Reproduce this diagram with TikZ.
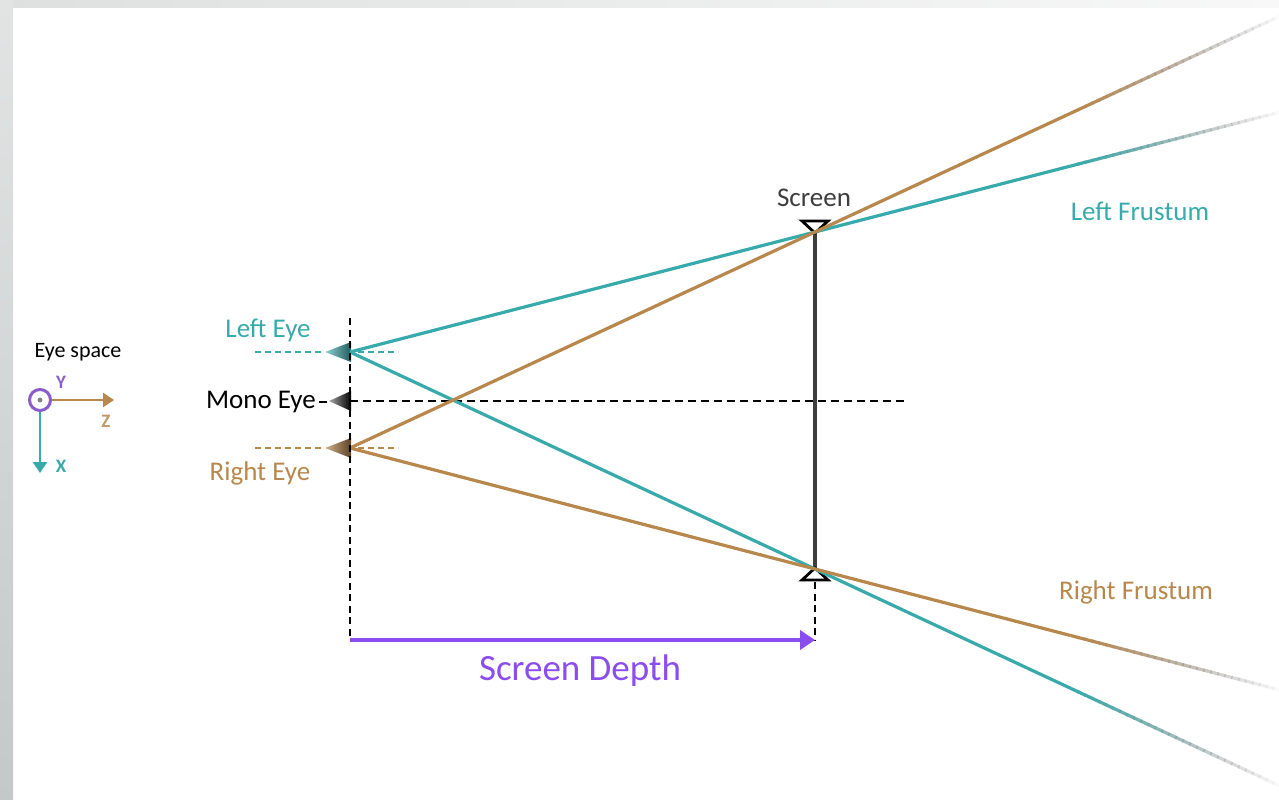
\documentclass[tikz,border=0pt]{standalone}
\usepackage{fontspec}
\setmainfont{Carlito}
\usetikzlibrary{calc,arrows.meta}

\definecolor{lteal}{HTML}{38AAAB}
\definecolor{rbrown}{HTML}{B8874C}
\definecolor{dpurple}{HTML}{8B4CF0}
\definecolor{cpurple}{HTML}{8A5CC8}
\definecolor{scrgray}{HTML}{3E3E3E}
\definecolor{fadegray}{HTML}{A0A0A0}

\begin{document}
\begin{tikzpicture}[x=1pt,y=-1pt,
  lbl/.style={font=\fontsize{27}{30}\selectfont, inner sep=0pt},
  ray/.style={line width=3.2pt},
  guide/.style={black, line width=2.9pt, dash pattern=on 7pt off 4.5pt},
  eyetick/.style={line width=1.8pt, dash pattern=on 6pt off 4pt},
  marker/.style={draw=black, fill=white, line width=2.8pt, line join=miter},
  axis/.style={line width=2.8pt, -{Triangle[length=11pt,width=14pt]}},
  axlbl/.style={font=\bfseries\fontsize{19}{21}\selectfont, inner sep=0pt}]

% page frame
\useasboundingbox (0,0) rectangle (1279,800);
\fill[white] (0,0) rectangle (1279,800);
\shade[left color={rgb,255:red,222;green,224;blue,224}, right color={rgb,255:red,248;green,248;blue,248}]
  (0,0) rectangle (1279,8);
\shade[top color={rgb,255:red,226;green,228;blue,228}, bottom color={rgb,255:red,196;green,200;blue,200}]
  (0,0) rectangle (13,800);

% key points
\coordinate (le) at (350,352);
\coordinate (me) at (350,401);
\coordinate (re) at (350,448);
\coordinate (st) at (815,232);
\coordinate (sb) at (815,569);

% eye-space axes
\node[font=\fontsize{22}{24}\selectfont, inner sep=0pt] (eyespace) at (78,352) {Eye space};
\draw[axis, rbrown] (50,400) -- (114,400) coordinate (zend);
\draw[axis, lteal] (40,410) -- (40,473) coordinate (xend);
\draw[cpurple, line width=3pt, fill=white] (40,400) circle (10.5) coordinate (yaxis);
\fill[gray] (40,400) circle (2.4);
\node[axlbl, text=cpurple] (ylab) at (61,382) {Y};
\node[axlbl, text=rbrown!85] (zlab) at (106,421) {Z};
\node[axlbl, text=lteal] (xlab) at (61,466) {X};

% eye labels
\node[lbl, text=lteal] (leftlab) at (268,330) {Left Eye};
\node[lbl, text=black, anchor=east] (monolab) at (316,402) {Mono Eye};
\node[lbl, text=rbrown] (rightlab) at (260,473) {Right Eye};

% short eye guides
\draw[eyetick, lteal] (255,352) -- (324,352);
\draw[eyetick, lteal] (358,352) -- (398,352);
\draw[eyetick, rbrown] (255,448) -- (324,448);
\draw[eyetick, rbrown] (358,448) -- (398,448);
\draw[black, line width=2.6pt] (monolab.east) ++(3,0) coordinate (md0) -- ++(8,0) coordinate (md1);

% mono eye axis
\draw[guide, dash pattern=on 8pt off 5pt] (me) -- (905,401) coordinate (monoend);

% eye markers
\shade[left color=lteal!55, right color=lteal!55!black] (325,352) -- (351,342) -- (351,362) -- cycle;
\shade[left color=gray!70, right color=black] (329,401) -- (351,391) -- (351,411) -- cycle;
\shade[left color=rbrown!65, right color=rbrown!50!black] (325,448) -- (351,438) -- (351,458) -- cycle;

% screen
\draw[scrgray, line width=3.6pt] (st) -- (sb);
\draw[marker] (802,221) -- (828,221) -- (815,233) -- cycle;
\draw[marker] (802,580) -- (828,580) -- (815,568) -- cycle;
\node[lbl, text=scrgray] (scrlab) at (814,198) {Screen};

% depth guides and arrow
\draw[guide] (350,318) -- (350,640) coordinate (d0);
\draw[guide] (815,582) -- (815,640) coordinate (d1);
\draw[dpurple, line width=4pt, -{Triangle[length=15pt,width=19pt]}] (d0) -- (d1);
\node[font=\fontsize{37}{40}\selectfont, text=dpurple, inner sep=0pt] (depthlab) at (580,671) {Screen Depth};

% frustum rays
\coordinate (lfa) at ($(le)!2.0!(st)$);
\coordinate (lfb) at ($(le)!2.0!(sb)$);
\coordinate (rfa) at ($(re)!2.0!(st)$);
\coordinate (rfb) at ($(re)!2.0!(sb)$);

\newcommand{\fadedray}[4]{%
  % #1 start, #2 screen point, #3 far point, #4 colour
  \draw[ray, #4] (#1) -- (#2) -- ($(#2)!0.55!(#3)$);
  \foreach \k in {0,...,29}{
    \pgfmathsetmacro{\ta}{0.55+0.45*\k/30}
    \pgfmathsetmacro{\tb}{0.55+0.45*(\k+1)/30+0.003}
    \pgfmathsetmacro{\mixc}{max(0,100-\k*4.5)}
    \pgfmathsetmacro{\op}{1-0.95*(\k/29)^1.8}
    \draw[ray, draw=#4!\mixc!fadegray, draw opacity=\op]
      ($(#2)!\ta!(#3)$) -- ($(#2)!\tb!(#3)$);
  }}
\fadedray{le}{st}{lfa}{lteal}
\fadedray{le}{sb}{lfb}{lteal}
\fadedray{re}{st}{rfa}{rbrown}
\fadedray{re}{sb}{rfb}{rbrown}

% frustum labels
\node[lbl, text=lteal] (lflab) at (1140,211) {Left Frustum};
\node[lbl, text=rbrown] (rflab) at (1136,592) {Right Frustum};

% redraw guide over markers
\draw[guide] (350,318) -- (350,460);
\end{tikzpicture}
\end{document}
